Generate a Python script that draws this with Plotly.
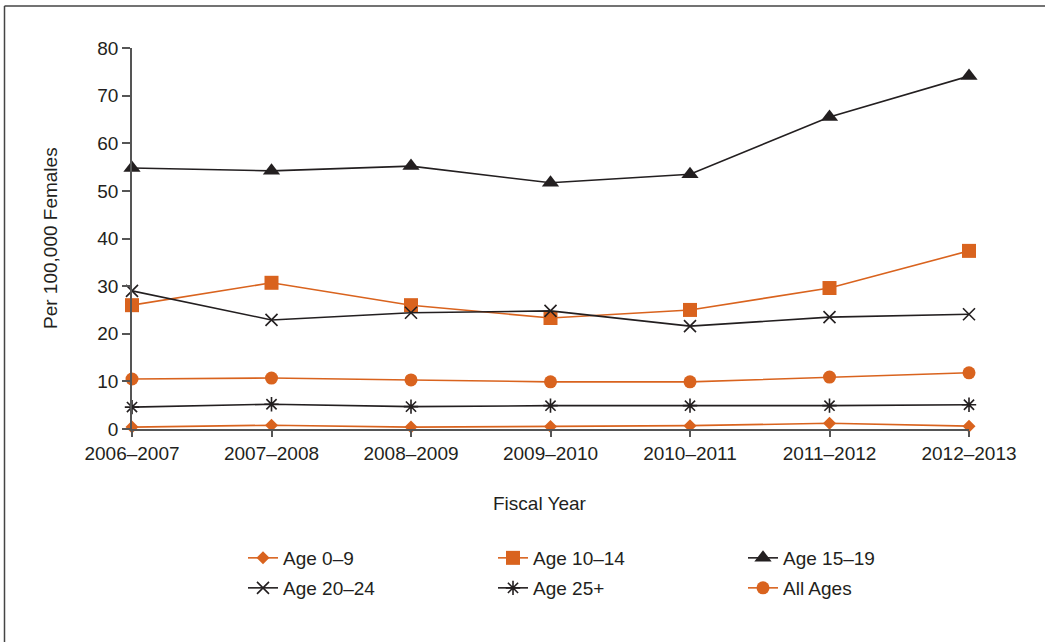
import plotly.graph_objects as go

years = ["2006–2007", "2007–2008", "2008–2009", "2009–2010", "2010–2011", "2011–2012", "2012–2013"]
age_0_9 = [0.4, 0.8, 0.4, 0.5, 0.7, 1.2, 0.6]
age_10_14 = [26.0, 30.7, 26.0, 23.3, 25.0, 29.6, 37.4]
age_15_19 = [54.8, 54.2, 55.2, 51.7, 53.5, 65.5, 74.1]
age_20_24 = [29.0, 22.9, 24.4, 24.8, 21.6, 23.5, 24.1]
age_25_plus = [4.6, 5.2, 4.7, 4.9, 4.9, 4.9, 5.1]
all_ages = [10.5, 10.7, 10.3, 9.9, 9.9, 10.9, 11.8]

ORANGE = "#D9631E"
BLACK = "#231F20"
FONT = "Liberation Sans, Arial, sans-serif"
FS = 19

W, H = 1045, 642
ML, MR, MT, MB = 132, 76, 48, 213
PW, PH = W - ML - MR, H - MT - MB

def px_x(p):
    return (p - ML) / PW

def px_y(p):
    return (H - MB - p) / PH

series = [
    ("Age 0–9", age_0_9, ORANGE, dict(symbol="diamond", size=10), "legend"),
    ("Age 10–14", age_10_14, ORANGE, dict(symbol="square", size=14), "legend"),
    ("Age 15–19", age_15_19, BLACK, dict(symbol="triangle-up", size=15), "legend"),
    ("Age 20–24", age_20_24, BLACK, dict(symbol="x-thin", size=12, line=dict(width=1.6, color=BLACK)), "legend2"),
    ("Age 25+", age_25_plus, BLACK, dict(symbol="asterisk", size=12, line=dict(width=1.6, color=BLACK)), "legend2"),
    ("All Ages", all_ages, ORANGE, dict(symbol="circle", size=13), "legend2"),
]

fig = go.Figure()
for name, vals, color, marker, leg in series:
    m = dict(color=color, **marker)
    fig.add_trace(go.Scatter(
        x=years, y=vals, name=name, mode="lines+markers",
        line=dict(color=color, width=1.6), marker=m, legend=leg,
        cliponaxis=False,
    ))

legend_common = dict(
    orientation="h", xanchor="left", yanchor="middle",
    font=dict(family=FONT, size=FS, color=BLACK),
    entrywidthmode="pixels", entrywidth=205,
    bgcolor="rgba(0,0,0,0)", itemclick=False,
)

fig.update_layout(
    width=W, height=H,
    margin=dict(l=ML, r=MR, t=MT, b=MB),
    paper_bgcolor="white", plot_bgcolor="white",
    font=dict(family=FONT, size=FS, color=BLACK),
    showlegend=True,
    legend=dict(x=px_x(243), y=px_y(558), **legend_common),
    legend2=dict(x=px_x(243), y=px_y(588), **legend_common),
    xaxis=dict(
        type="category", range=[0, 6], showgrid=False, zeroline=False,
        showline=True, linecolor="#555555", linewidth=1.5,
        ticks="outside", ticklen=6, tickcolor="#555555", tickwidth=1.5,
        tickfont=dict(family=FONT, size=FS, color=BLACK),
    ),
    yaxis=dict(
        range=[0, 80], dtick=10, showgrid=False, zeroline=False,
        showline=True, linecolor="#555555", linewidth=1.5,
        ticks="outside", ticklen=8, tickcolor="#555555", tickwidth=1.5,
        tickfont=dict(family=FONT, size=FS, color=BLACK),
    ),
    annotations=[
        dict(text="Fiscal Year", xref="paper", yref="paper", x=px_x(540), y=px_y(503),
             showarrow=False, font=dict(family=FONT, size=FS, color=BLACK),
             xanchor="center", yanchor="middle"),
        dict(text="Per 100,000 Females", xref="paper", yref="paper", x=px_x(50), y=px_y(238),
             showarrow=False, textangle=-90, font=dict(family=FONT, size=FS, color=BLACK),
             xanchor="center", yanchor="middle"),
    ],
    shapes=[
        dict(type="line", xref="paper", yref="paper", x0=px_x(4.5), x1=px_x(4.5), y0=px_y(6), y1=px_y(H + 5),
             line=dict(color="#444444", width=1.5)),
        dict(type="line", xref="paper", yref="paper", x0=px_x(4.5), x1=px_x(W + 5), y0=px_y(6), y1=px_y(6),
             line=dict(color="#444444", width=1.5)),
    ],
)

fig.write_html("out.html")
